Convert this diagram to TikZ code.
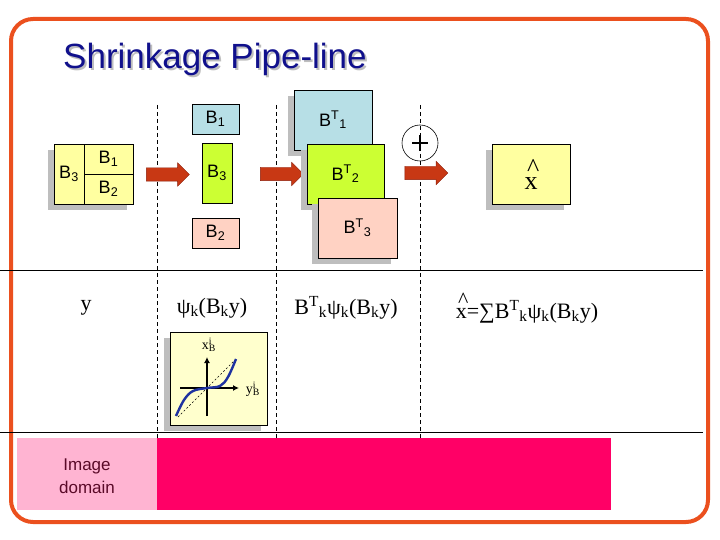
\documentclass[tikz,border=0pt]{standalone}
\usepackage{fontspec}
\setmainfont{Liberation Sans}
\newfontfamily\tms{Liberation Serif}
\usetikzlibrary{shadows,shapes.arrows,arrows.meta}
\definecolor{frameor}{RGB}{235,80,30}
\definecolor{navyt}{RGB}{16,16,140}
\definecolor{ylw}{RGB}{255,255,160}
\definecolor{ylwlt}{RGB}{255,255,205}
\definecolor{lblue}{RGB}{183,223,230}
\definecolor{lgreen}{RGB}{204,255,51}
\definecolor{salmon}{RGB}{255,210,195}
\definecolor{shgrey}{RGB}{190,190,190}
\definecolor{arrred}{RGB}{200,56,20}
\definecolor{arrdark}{RGB}{140,30,10}
\definecolor{pinklt}{RGB}{255,180,210}
\definecolor{magen}{RGB}{255,0,102}
\definecolor{maroon}{RGB}{90,10,40}
\definecolor{curveblue}{RGB}{30,50,160}
\newcommand\Bsb[1]{B\textsubscript{#1}}
\newcommand\BTsb[1]{B\textsuperscript{T}\textsubscript{#1}}
\newcommand\xhatt{\makebox[0pt][l]{\raisebox{0.5em}{\hspace{0.1em}\textasciicircum}}x}
\begin{document}
\begin{tikzpicture}[x=1pt,y=-1pt,
  shd/.style={drop shadow={shadow xshift=-6pt,shadow yshift=-6pt,fill=shgrey,opacity=1}},
  bx/.style={draw=black,line width=0.8pt,inner sep=0pt,font=\fontsize{18}{18}\selectfont},
  barrow/.style={single arrow,fill=arrred,draw=arrdark,line width=0.4pt,minimum height=43pt,minimum width=23pt,single arrow head extend=5pt,inner xsep=0pt,inner ysep=6.5pt},
  sep/.style={draw=black,line width=0.6pt,dash pattern=on 4pt off 3pt},
  hline/.style={draw=black,line width=0.8pt},
  ftext/.style={font=\tms\fontsize{22}{22}\selectfont,inner sep=0pt}]
\useasboundingbox (0,0) rectangle (720,540);
% frame
\draw[frameor,line width=4pt,rounded corners=22pt] (11,19) rectangle (708,522);
% title
\node[font=\fontsize{35}{35}\selectfont,text=shgrey,anchor=base west,inner sep=0pt] (titlesh) at (65,71) {Shrinkage Pipe-line};
\node[font=\fontsize{35}{35}\selectfont,text=navyt,anchor=base west,inner sep=0pt] (title) at (63,69) {Shrinkage Pipe-line};
% dashed separators
\coordinate (s1t) at (157,105); \coordinate (s1b) at (157,440);
\coordinate (s2t) at (276,105); \coordinate (s2b) at (276,440);
\coordinate (s3t) at (420,105); \coordinate (s3b) at (420,440);
\draw[sep] (s1t) -- (s1b);
\draw[sep] (s2t) -- (s2b);
\draw[sep] (s3t) -- (s3b);
% horizontal lines
\coordinate (h1l) at (0,270); \coordinate (h1r) at (703,270);
\coordinate (h2l) at (0,432); \coordinate (h2r) at (703,432);
\draw[hline] (h1l) -- (h1r);
\draw[hline] (h2l) -- (h2r);
% big block
\node[bx,fill=ylw,shd,minimum width=79pt,minimum height=60pt] (blk) at (93.5,174) {};
\node[bx,fill=ylw,minimum width=30pt,minimum height=60pt] (c3) at (69,174) {\Bsb{3}};
\node[bx,fill=ylw,minimum width=49pt,minimum height=30pt] (c1) at (108.5,159) {\Bsb{1}};
\node[bx,fill=ylw,minimum width=49pt,minimum height=30pt] (c2) at (108.5,189) {\Bsb{2}};
% arrows
\node[barrow] (ar1) at (164.5,174.5) {};
\node[barrow] (ar2) at (278.5,174) {};
\node[barrow] (ar3) at (423,173) {};
% column 2
\node[bx,fill=lblue,minimum width=47pt,minimum height=30pt] (b1) at (215.5,119) {\Bsb{1}};
\node[bx,fill=lgreen,minimum width=30pt,minimum height=60pt] (b3) at (217,173) {\Bsb{3}};
\node[bx,fill=salmon,minimum width=47pt,minimum height=30pt] (b2) at (215.5,233) {\Bsb{2}};
% column 3
\node[bx,fill=lblue,shd,minimum width=78pt,minimum height=60pt] (bt1) at (333,120) {\BTsb{1}};
\node[bx,fill=lgreen,shd,minimum width=77pt,minimum height=60pt] (bt2) at (345.5,174) {\BTsb{2}};
\node[bx,fill=salmon,shd,minimum width=79pt,minimum height=60pt] (bt3) at (357.5,228) {\BTsb{3}};
% circle plus
\node[circle,draw=black,line width=0.6pt,minimum size=36pt,inner sep=0pt] (plus) at (420,143) {};
\draw[line width=1.4pt] ([xshift=-8pt]plus.center) -- ([xshift=8pt]plus.center);
\draw[line width=1.4pt] ([yshift=-8pt]plus.center) -- ([yshift=8pt]plus.center);
% x-hat box
\node[bx,fill=ylw,shd,minimum width=78pt,minimum height=60pt,font=\tms\fontsize{26}{26}\selectfont] (xh) at (531,174) {\raisebox{-4pt}{\xhatt}};
% bottom row formulas
\node[ftext] (fy) at (86,308) {y};
\node[ftext] (fpsi) at (212,308) {ψ\textsubscript{k}(B\textsubscript{k}y)};
\node[ftext] (fbt) at (346,308) {B\textsuperscript{T}\textsubscript{k}ψ\textsubscript{k}(B\textsubscript{k}y)};
\node[ftext] (fsum) at (527,308) {\xhatt=∑B\textsuperscript{T}\textsubscript{k}ψ\textsubscript{k}(B\textsubscript{k}y)};
% shrinkage graph
\node[draw=black,line width=0.8pt,fill=ylwlt,shd,minimum width=97pt,minimum height=93pt,inner sep=0pt] (gr) at (218.5,378.5) {};
\coordinate (vb) at (207,416); \coordinate (vt) at (207,357);
\coordinate (hl) at (180,388); \coordinate (hr) at (239,388);
\draw[line width=1.2pt,-{Latex[length=6pt,width=6pt]}] (vb) -- (vt);
\draw[line width=1.2pt,-{Latex[length=6pt,width=6pt]}] (hl) -- (hr);
\draw[line width=0.4pt,dash pattern=on 2pt off 2pt] (178,417) -- (237,358);
\draw[curveblue,line width=2.4pt] plot[smooth,tension=0.6] coordinates {(176,416) (184,400) (193,391) (207,388) (220,386) (228,377) (236,359)};
\node[font=\tms\fontsize{14}{14}\selectfont,inner sep=0pt] (xl) at (209,345) {x\rlap{\textsuperscript{i}}\textsubscript{B}};
\node[font=\tms\fontsize{14}{14}\selectfont,inner sep=0pt] (yl) at (253,389) {y\rlap{\textsuperscript{i}}\textsubscript{B}};
% bottom band
\fill[pinklt] (17,438) rectangle (157,510);
\fill[magen] (157,438) rectangle (611,510);
\node[font=\fontsize{17}{23}\selectfont,text=maroon,align=center,inner sep=0pt] (imgdom) at (87,476) {Image\\domain};
\end{tikzpicture}
\end{document}
